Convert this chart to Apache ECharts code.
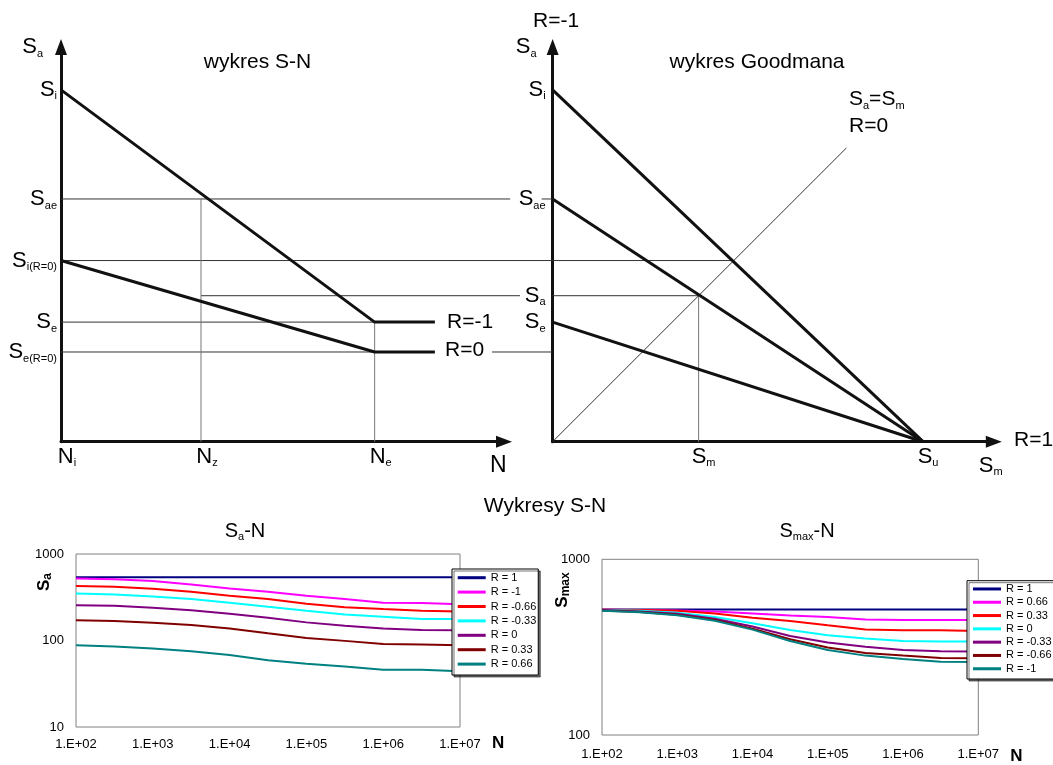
<!DOCTYPE html>
<html>
<head>
<meta charset="utf-8">
<script src="https://cdn.jsdelivr.net/npm/echarts@6/dist/echarts.min.js"></script>
<style>
  html, body { margin: 0; padding: 0; background: #fff; }
  #chart { width: 1053px; height: 765px; }
</style>
</head>
<body>
<div id="chart"></div>
<script>
// ---------- S-N schematic (relative units: N 0..100, stress 0..112.2) ----------
const snNTicks = [0, 31.6, 70.8];                   // N_i, N_z, N_e
const snNSubs = ['i', 'z', 'e'];
const snStressTicks = [100, 69, 51.5, 34, 25.5];     // S_i, S_ae, S_i(R=0), S_e, S_e(R=0)
const snStressSubs = ['i', 'ae', 'i(R=0)', 'e', 'e(R=0)'];
const snCurveRm1 = [[0, 100], [70.8, 34], [84.4, 34]];
const snCurveR0 = [[0, 51.5], [70.8, 25.5], [84.4, 25.5]];
// stress levels carried from the S-N axis across to the Goodman axis (same N units, wider range)
const snLevelLines = [
  [[0, 69], [101.4, 69]],          // S_ae
  [[108.5, 69], [111, 69]],        // S_ae tick at the Goodman axis
  [[0, 51.5], [111, 51.5]],        // S_i(R=0)
  [[31.6, 41.5], [103.6, 41.5]],   // S_a at N_z
  [[0, 34], [70.8, 34]],           // S_e
  [[0, 25.5], [70.8, 25.5]],       // S_e(R=0)
  [[97.3, 25.5], [111, 25.5]]      // S_e(R=0) after the R=0 label
];
const snDropLines = [
  [[31.6, 0], [31.6, 69]],         // N_z
  [[70.8, 0], [70.8, 34]]          // N_e
];

// ---------- Goodman diagram (stress units on both axes) ----------
const gmAmplitudes = [100, 69, 34];                  // S_i, S_ae, S_e
const gmSu = 105.3;
const gmSaTicks = [100, 69, 41.5, 34];
const gmSaSubs = ['i', 'ae', 'a', 'e'];
const gmSmTicks = [41.5, 105.3];
const gmSmSubs = ['m', 'u'];
const gmDiagonal = [[0, 0], [83.5, 83.5]];           // S_a = S_m (R = 0)
const gmLevelLines = [
  [[0, 51.5], [51.5, 51.5]],
  [[0, 41.5], [41.5, 41.5]]
];
const gmSmLine = [[41.5, 0], [41.5, 41.5]];

// ---------- Measured S-N curves ----------
const cycles = [1e2, 3.16e2, 1e3, 3.16e3, 1e4, 3.16e4, 1e5, 3.16e5, 1e6, 3.16e6, 1e7];
const cycleTickLabels = ['1.E+02', '1.E+03', '1.E+04', '1.E+05', '1.E+06', '1.E+07'];
const curveColors = ['#000080', '#FF00FF', '#FF0000', '#00FFFF', '#800080', '#800000', '#008080'];

const saNames = ['R = 1', 'R = -1', 'R = -0.66', 'R = -0.33', 'R = 0', 'R = 0.33', 'R = 0.66'];
const saR1    = [537, 537, 537, 537, 537, 537, 537, 537, 537, 537, 537];
const saRm1   = [522, 509, 487, 445, 400, 366, 329, 301, 273, 271, 263];
const saRm066 = [426, 419, 397, 366, 329, 301, 266, 243, 231, 221, 217];
const saRm033 = [350, 341, 323, 301, 273, 245, 221, 200, 188, 177, 177];
const saR0    = [256, 252, 239, 224, 204, 183, 162, 148, 138, 132, 131];
const saR033  = [172, 168, 160, 151, 138, 121, 107, 99, 91, 90, 88];
const saR066  = [88, 85, 81, 75, 68, 59, 54, 50, 46, 46, 44];
const saValues = [saR1, saRm1, saRm066, saRm033, saR0, saR033, saR066];

const smaxNames = ['R = 1', 'R = 0.66', 'R = 0.33', 'R = 0', 'R = -0.33', 'R = -0.66', 'R = -1'];
const smaxR1    = [518, 518, 518, 518, 518, 518, 518, 518, 518, 518, 518];
const smaxR066  = [516, 514, 511, 505, 492, 479, 469, 455, 451, 451, 451];
const smaxR033  = [516, 514, 509, 492, 465, 445, 421, 399, 394, 394, 391];
const smaxR0    = [514, 509, 496, 469, 432, 396, 370, 354, 343, 340, 340];
const smaxRm033 = [514, 505, 490, 459, 414, 366, 336, 318, 305, 300, 299];
const smaxRm066 = [511, 502, 483, 451, 403, 351, 315, 293, 283, 274, 273];
const smaxRm1   = [509, 500, 481, 447, 398, 343, 305, 283, 271, 261, 260];
const smaxValues = [smaxR1, smaxR066, smaxR033, smaxR0, smaxRm033, smaxRm066, smaxRm1];

// ---------- styling helpers ----------
const F = '"Liberation Sans", Arial, Helvetica, sans-serif';
const RICH = {
  m: { fontSize: 22, fontFamily: F, color: '#000', lineHeight: 24 },
  t: { fontSize: 21, fontFamily: F, color: '#000', lineHeight: 24 },
  n: { fontSize: 23, fontFamily: F, color: '#000', lineHeight: 24 },
  s: { fontSize: 11, fontFamily: F, color: '#000', verticalAlign: 'bottom', lineHeight: 11 },
  h: { fontSize: 20, fontFamily: F, color: '#000', lineHeight: 22 },
  hs: { fontSize: 11, fontFamily: F, color: '#000', verticalAlign: 'bottom', lineHeight: 10 },
  b: { fontSize: 17, fontFamily: F, fontWeight: 'bold', color: '#000', lineHeight: 19 },
  bs: { fontSize: 12, fontFamily: F, fontWeight: 'bold', color: '#000', verticalAlign: 'bottom', lineHeight: 12 }
};
const sub = (main, s) => '{m|' + main + '}{s|' + s + '}';
const nearestIdx = (arr, v) => {
  let best = 0;
  arr.forEach((a, i) => { if (Math.abs(a - v) < Math.abs(arr[best] - v)) best = i; });
  return best;
};

const ARROW = { show: true, symbol: ['none', 'triangle'], symbolSize: [12, 16],
                lineStyle: { color: '#111', width: 3 } };

function schemeAxis(gridIndex, min, max, ticks, formatter, labelOpts, extra) {
  return Object.assign({
    type: 'value', gridIndex, min, max,
    axisLine: ARROW,
    axisTick: { show: false },
    splitLine: { show: false },
    axisLabel: Object.assign({
      customValues: ticks, showMinLabel: true, showMaxLabel: true,
      formatter, rich: RICH
    }, labelOpts)
  }, extra);
}

function hiddenAxis(gridIndex, min, max) {
  return { type: 'value', gridIndex, min, max, show: false, splitLine: { show: false } };
}

function seg(axisIndex, data, width, color) {
  return {
    type: 'line', xAxisIndex: axisIndex, yAxisIndex: axisIndex, data,
    symbol: 'none', silent: true,
    lineStyle: { width, color }, z: width > 2 ? 4 : 3
  };
}

function curveSeries(prefix, names, values, axisIndex) {
  return names.map((n, k) => ({
    name: prefix + n, type: 'line', xAxisIndex: axisIndex, yAxisIndex: axisIndex,
    data: cycles.map((c, i) => [c, values[k][i]]),
    symbol: 'none', silent: true,
    lineStyle: { width: 2, color: curveColors[k] },
    itemStyle: { color: curveColors[k] }
  }));
}

function curveLegend(prefix, names, left, top, rowHeight, padding) {
  return {
    orient: 'vertical', left, top, padding,
    data: names.map(n => prefix + n),
    formatter: n => n.slice(prefix.length),
    icon: 'rect', itemWidth: 28, itemHeight: 3, itemGap: 0,
    selectedMode: false,
    backgroundColor: '#fff', borderColor: '#000', borderWidth: 1,
    shadowColor: 'rgba(0,0,0,0.55)', shadowOffsetX: 2, shadowOffsetY: 2, shadowBlur: 0,
    textStyle: { fontSize: 11, fontFamily: F, color: '#000', lineHeight: rowHeight }
  };
}

const logTickLabel = v => cycleTickLabels[Math.round(Math.log10(v)) - 2] || '';
const plainNumber = v => String(Math.round(v));

function logAxis(gridIndex, min, max, labelMargin, extra) {
  return Object.assign({
    type: 'log', logBase: 10, gridIndex, min, max,
    axisLine: { show: false }, axisTick: { show: false }, splitLine: { show: false },
    axisLabel: { fontSize: 13, color: '#000', margin: labelMargin, formatter: plainNumber }
  }, extra || {});
}

function cycleAxis(gridIndex, labelMargin, namePadTop) {
  return logAxis(gridIndex, 1e2, 1e7, labelMargin, {
    axisLabel: { formatter: logTickLabel, fontSize: 13, color: '#000', margin: labelMargin },
    name: '{b|N}', nameLocation: 'end', nameGap: 32,
    nameTextStyle: { rich: RICH, align: 'left', verticalAlign: 'middle', padding: [namePadTop, 0, 0, 0] }
  });
}

function text(x, y, str, align, extra) {
  return {
    type: 'text', x, y, z: 20, silent: true,
    style: Object.assign({
      text: str, rich: RICH, align: align || 'left', verticalAlign: 'middle',
      fill: '#000', fontSize: 21, fontFamily: F
    }, extra || {})
  };
}

const option = {
  animation: false,
  backgroundColor: '#fff',
  textStyle: { fontFamily: F },
  grid: [
    { left: 61, top: 47, width: 443, height: 394.7 },
    { left: 552.6, top: 47, width: 441.2, height: 394.7 },
    { left: 76, top: 554, width: 384, height: 173, show: true, borderColor: '#808080', borderWidth: 1 },
    { left: 602, top: 559.3, width: 376.3, height: 177.4, show: true, borderColor: '#808080', borderWidth: 1 },
    // S-N units stretched over both diagrams, for the stress levels that cross between them
    { left: 61, top: 47, width: 708.8, height: 394.7 }
  ],
  xAxis: [
    schemeAxis(0, 0, 100, snNTicks,
      v => sub('N', snNSubs[nearestIdx(snNTicks, v)]),
      { margin: 3, padding: [0, 0, 0, 12] },
      { name: '{n|N}', nameLocation: 'end', nameGap: -14,
        nameTextStyle: { rich: RICH, align: 'left', verticalAlign: 'middle', padding: [47, 0, 0, 0] } }),
    schemeAxis(1, 0, 125.4, gmSmTicks,
      v => sub('S', gmSmSubs[nearestIdx(gmSmTicks, v)]),
      { margin: 3, padding: [0, 0, 0, 10] },
      { name: '{m|S}{s|m}', nameLocation: 'end', nameGap: -15,
        nameTextStyle: { rich: RICH, align: 'left', verticalAlign: 'middle', padding: [48, 0, 0, 0] } }),
    cycleAxis(2, 11, 33),
    cycleAxis(3, 13, 43),
    hiddenAxis(4, 0, 160)
  ],
  yAxis: [
    schemeAxis(0, 0, 112.2, snStressTicks,
      v => sub('S', snStressSubs[nearestIdx(snStressTicks, v)]),
      { margin: 4 },
      { name: '{m|S}{s|a}', nameLocation: 'end', nameGap: 0,
        nameTextStyle: { rich: RICH, align: 'right', verticalAlign: 'middle', padding: [0, 18, 0, 0] } }),
    schemeAxis(1, 0, 112.2, gmSaTicks,
      v => sub('S', gmSaSubs[nearestIdx(gmSaTicks, v)]),
      { margin: 7 },
      { name: '{m|S}{s|a}', nameLocation: 'end', nameGap: 0,
        nameTextStyle: { rich: RICH, align: 'right', verticalAlign: 'middle', padding: [0, 16, 0, 0] } }),
    logAxis(2, 10, 1000, 12),
    logAxis(3, 100, 1000, 12),
    hiddenAxis(4, 0, 112.2)
  ],
  legend: [
    curveLegend('Sa-N: ', saNames, 452, 569, 14.4, [1.5, 2, 3.7, 5.7]),
    curveLegend('Smax-N: ', smaxNames, 967, 580.7, 13.3, [1.6, 2, 3.6, 6])
  ],
  graphic: { elements: [
    text(257.5, 62, 'wykres S-N', 'center'),
    text(757, 62, 'wykres Goodmana', 'center'),
    text(447, 322.5, 'R=-1'),
    text(445, 350.5, 'R=0'),
    text(533, 21.5, 'R=-1'),
    text(849, 99, '{t|S}{s|a}{t|=S}{s|m}'),
    text(849, 126, 'R=0'),
    text(1014, 440, 'R=1'),
    text(545, 506, 'Wykresy S-N', 'center'),
    text(245, 531.5, '{h|S}{hs|a}{h|-N}', 'center'),
    text(807, 531, '{h|S}{hs|max}{h|-N}', 'center'),
    Object.assign(text(44, 582, '{b|S}{bs|a}', 'center'), { rotation: Math.PI / 2 }),
    Object.assign(text(562, 590, '{b|S}{bs|max}', 'center'), { rotation: Math.PI / 2 })
  ] },
  series: [
    // stress levels and drop lines of the S-N schematic
    ...snLevelLines.map(d => seg(4, d, 1, '#333')),
    ...snDropLines.map(d => seg(0, d, 1, '#777')),
    seg(0, snCurveRm1, 3, '#111'),
    seg(0, snCurveR0, 3, '#111'),
    // Goodman diagram
    ...gmLevelLines.map(d => seg(1, d, 1, '#333')),
    seg(1, gmSmLine, 1, '#777'),
    seg(1, gmDiagonal, 1, '#333'),
    ...gmAmplitudes.map(a => seg(1, [[0, a], [gmSu, 0]], 3, '#111')),
    // measured curves
    ...curveSeries('Sa-N: ', saNames, saValues, 2),
    ...curveSeries('Smax-N: ', smaxNames, smaxValues, 3)
  ]
};

const chart = echarts.init(document.getElementById('chart'), null, { renderer: 'canvas' });
chart.setOption(option);
</script>
</body>
</html>
